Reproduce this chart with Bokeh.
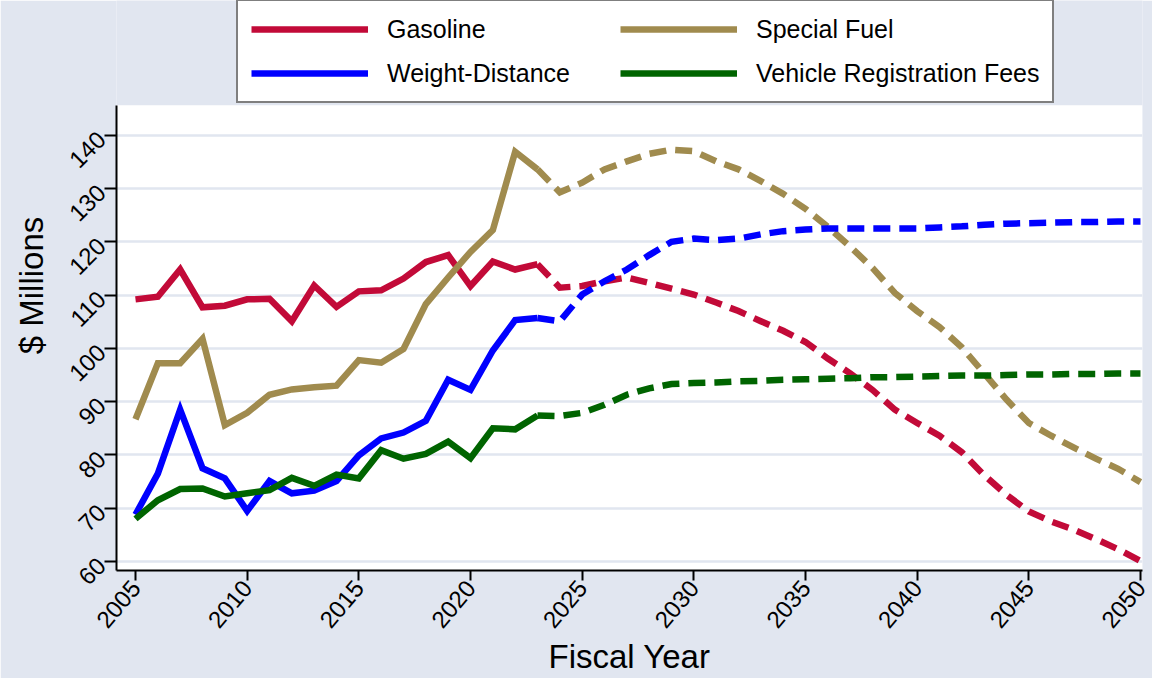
import math
from bokeh.plotting import figure
from bokeh.models import FixedTicker, Legend, LegendItem, Range1d, BoxAnnotation
from bokeh.embed import file_html
from bokeh.resources import INLINE

# ---------------- data ----------------
years_actual = list(range(2005, 2024))
years_forecast = list(range(2023, 2051))

gasoline_actual = [109.2, 109.7, 114.8, 107.7, 108.0, 109.2, 109.3, 105.1, 111.8, 107.8,
                   110.7, 110.9, 113.1, 116.2, 117.5, 111.7, 116.3, 114.8, 115.8]
gasoline_forecast = [115.8, 111.4, 111.7, 112.6, 113.3, 112.3, 111.2, 110.1, 108.6, 107.0,
                     105.1, 103.3, 101.2, 98.1, 95.3, 92.2, 88.5, 86.0, 83.6, 80.5,
                     76.2, 72.5, 69.4, 67.5, 66.0, 64.2, 62.3, 60.1]

special_actual = [86.7, 97.2, 97.2, 101.8, 85.6, 87.9, 91.3, 92.3, 92.7, 93.0,
                  97.8, 97.3, 99.9, 108.3, 113.3, 118.1, 122.2, 136.9, 133.6]
special_forecast = [133.6, 129.3, 131.1, 133.6, 135.1, 136.5, 137.3, 137.0, 135.1, 133.6,
                    131.4, 129.0, 126.2, 122.8, 119.1, 115.1, 110.4, 107.0, 104.0, 100.2,
                    95.3, 90.4, 86.0, 83.6, 81.4, 79.3, 77.4, 74.9]

weight_actual = [68.8, 76.5, 88.5, 77.5, 75.6, 69.5, 75.1, 72.8, 73.3, 75.1,
                 79.9, 83.1, 84.2, 86.4, 94.1, 92.2, 99.6, 105.3, 105.7]
weight_forecast = [105.7, 105.1, 110.1, 112.6, 114.8, 117.5, 120.0, 120.6, 120.3, 120.6,
                   121.4, 122.0, 122.3, 122.5, 122.5, 122.5, 122.5, 122.5, 122.7, 122.9,
                   123.2, 123.4, 123.5, 123.6, 123.7, 123.7, 123.8, 123.8]

registration_actual = [68.0, 71.5, 73.6, 73.7, 72.2, 72.8, 73.4, 75.7, 74.2, 76.3,
                       75.6, 80.9, 79.3, 80.2, 82.5, 79.4, 85.0, 84.8, 87.4]
registration_forecast = [87.4, 87.3, 87.9, 89.4, 91.3, 92.5, 93.3, 93.5, 93.6, 93.8,
                         93.9, 94.1, 94.2, 94.3, 94.4, 94.6, 94.6, 94.7, 94.8, 94.9,
                         94.9, 95.0, 95.1, 95.1, 95.2, 95.2, 95.3, 95.3]

series_names = ["Gasoline", "Special Fuel", "Weight-Distance", "Vehicle Registration Fees"]
x_ticks = list(range(2005, 2051, 5))
y_ticks = list(range(60, 141, 10))

# ---------------- style ----------------
BG = "#E1E6F0"
GRID = "#E1E6F0"
COLORS = ["#C20A38", "#A08B4E", "#0000FF", "#006400"]
FONT = "Liberation Sans"
LW = 6.5

Y_LO, Y_HI = 58.31, 165.29     # full frame range (legend lives in the top part)
PLOT_TOP = 145.62              # top of the white plot region
X_LO, X_HI = 2004.149, 2050.09

p = figure(width=1152, height=678, output_backend="svg", toolbar_location=None,
           x_range=Range1d(X_LO, X_HI), y_range=Range1d(Y_LO, Y_HI))
p.background_fill_color = BG
p.border_fill_color = BG
p.outline_line_color = None
p.min_border_left = 116
p.min_border_right = 10
p.min_border_top = 0
p.min_border_bottom = 107

# white plot region
p.add_layout(BoxAnnotation(top=PLOT_TOP, fill_color="white", fill_alpha=1.0,
                           line_color=None, level="image"))

actuals = [gasoline_actual, special_actual, weight_actual, registration_actual]
forecasts = [gasoline_forecast, special_forecast, weight_forecast, registration_forecast]

solid_renderers = []
for vals, col in zip(actuals, COLORS):
    r = p.line(years_actual, vals, line_color=col, line_width=LW, line_join="miter")
    solid_renderers.append(r)
for vals, col in zip(forecasts, COLORS):
    p.line(years_forecast, vals, line_color=col, line_width=LW, line_dash="17 9",
           line_join="miter")

# axes
for ax in (p.xaxis[0], p.yaxis[0]):
    ax.axis_line_width = 2
    ax.axis_line_color = "black"
    ax.major_tick_line_width = 2
    ax.major_tick_line_color = "black"
    ax.major_tick_in = 0
    ax.minor_tick_line_color = None
    ax.major_label_text_font = FONT
    ax.major_label_text_font_size = "24px"
    ax.major_label_text_color = "black"
    ax.major_label_standoff = 3
    ax.axis_label_text_font = FONT
    ax.axis_label_text_font_size = "33px"
    ax.axis_label_text_font_style = "normal"
    ax.axis_label_text_color = "black"

p.xaxis.major_label_orientation = math.radians(50)
p.yaxis.major_label_orientation = math.radians(45)
p.xaxis.ticker = FixedTicker(ticks=x_ticks)
p.yaxis.ticker = FixedTicker(ticks=y_ticks)
p.yaxis.bounds = (Y_LO, PLOT_TOP)
p.xaxis.major_tick_out = 10
p.yaxis.major_tick_out = 12
p.xaxis.axis_label = "Fiscal Year"
p.yaxis.axis_label = "$ Millions"
p.xaxis.axis_label_standoff = 0
p.yaxis.axis_label_standoff = 8

p.xgrid.grid_line_color = None
p.ygrid.ticker = FixedTicker(ticks=y_ticks)
p.ygrid.grid_line_color = GRID
p.ygrid.grid_line_width = 2.5

items = [LegendItem(label=n, renderers=[r]) for n, r in zip(series_names, solid_renderers)]
legend = Legend(items=items, orientation="horizontal", ncols=2, location=(120, 467),
                margin=0, padding=13, spacing=14,
                glyph_width=117, glyph_height=30, label_height=30, label_width=219,
                label_standoff=19,
                label_text_font=FONT, label_text_font_size="25px", label_text_color="black",
                border_line_color="black", border_line_width=2,
                background_fill_color="white", background_fill_alpha=1.0)
p.add_layout(legend, "center")

open("out.html", "w").write(file_html(p, INLINE))
